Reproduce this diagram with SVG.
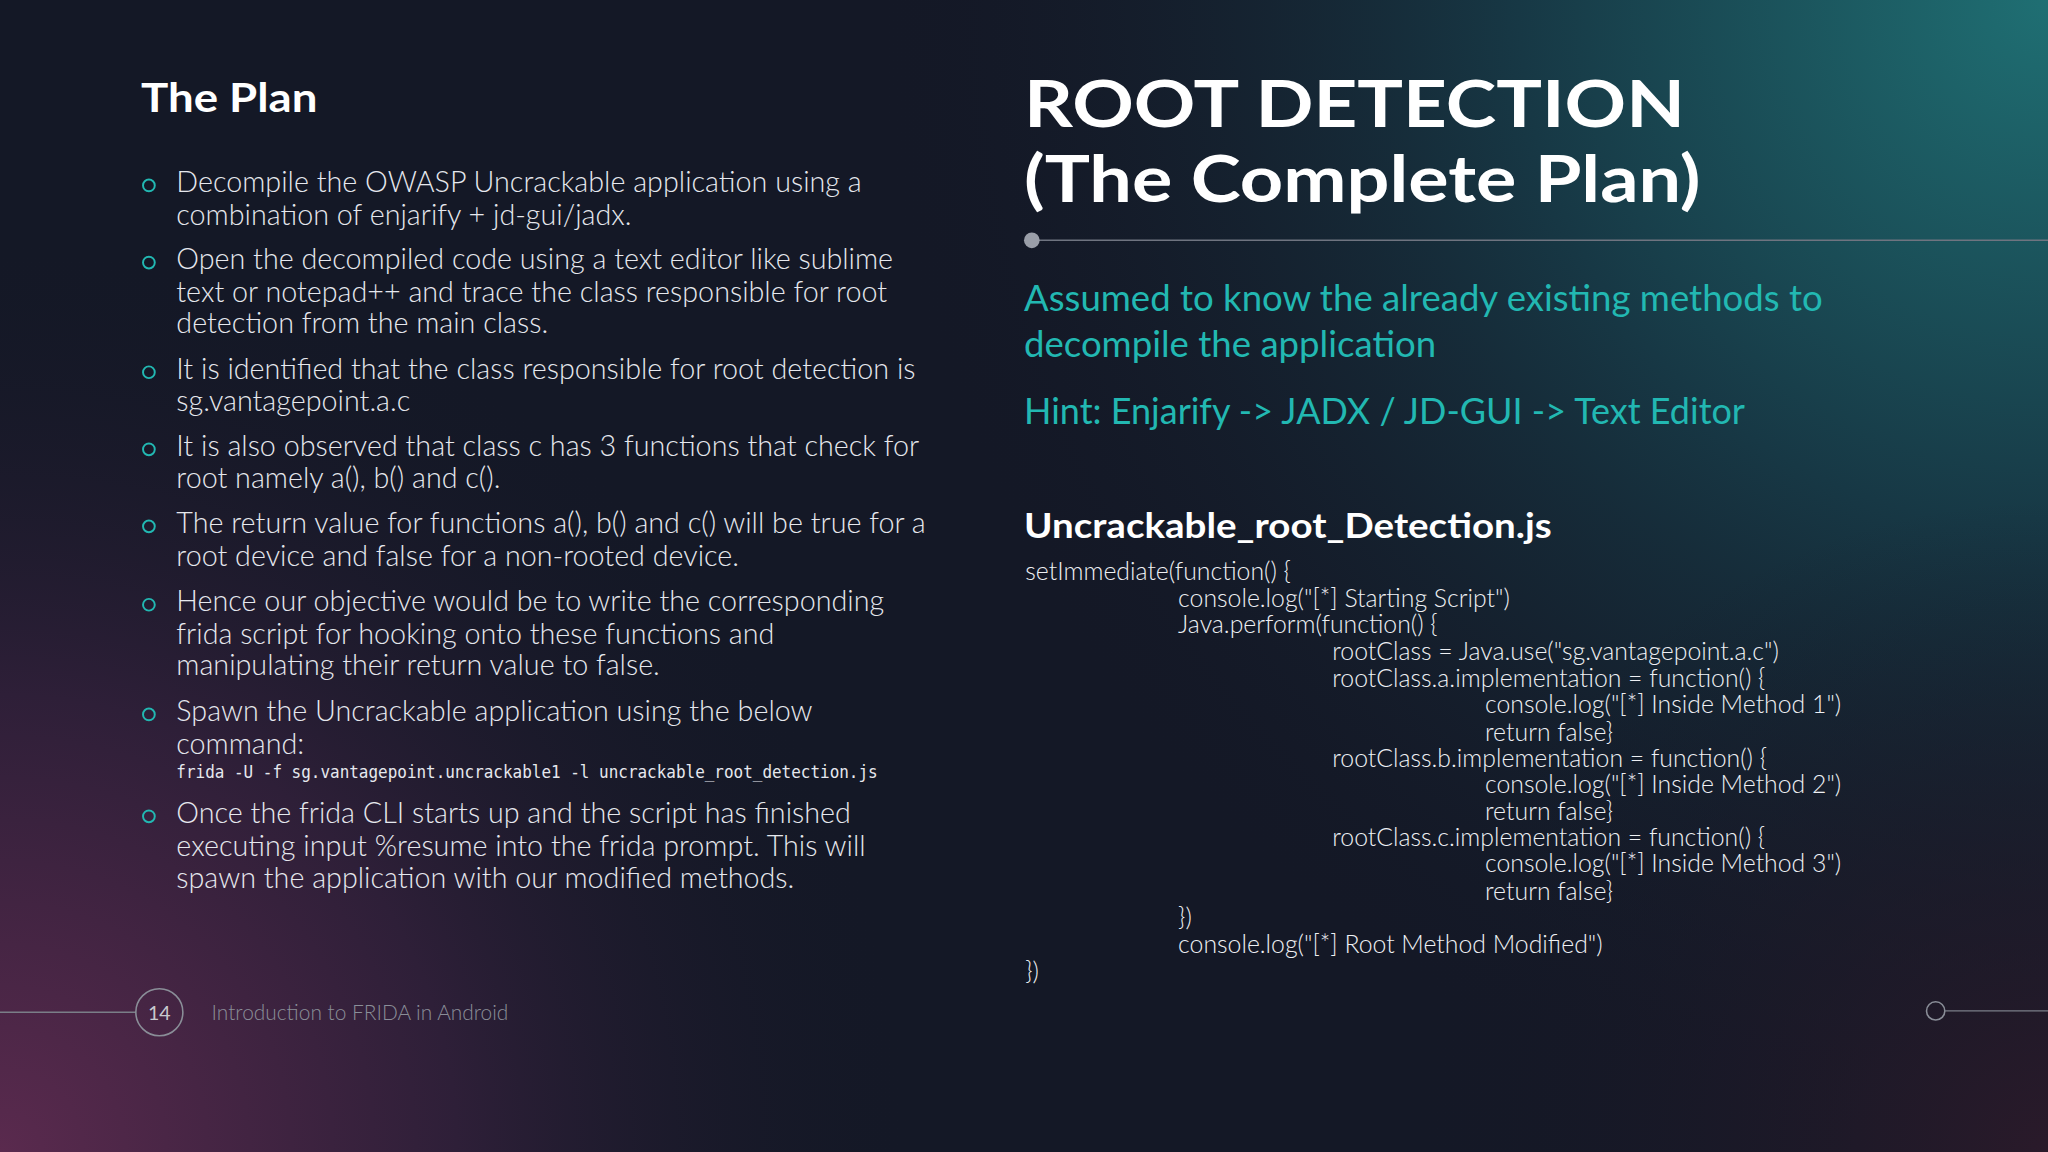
<svg xmlns="http://www.w3.org/2000/svg" width="2048" height="1152" viewBox="0 0 2048 1152">
<defs>
<radialGradient id="g1" cx="1568" cy="0" r="900" gradientUnits="userSpaceOnUse"><stop offset="0" stop-color="#1f6f73"/><stop offset="0.45" stop-color="#173845"/><stop offset="1" stop-color="#141826" stop-opacity="0"/></radialGradient>
<radialGradient id="g2" cx="0" cy="882" r="700" gradientUnits="userSpaceOnUse"><stop offset="0" stop-color="#5a2a4e"/><stop offset="0.5" stop-color="#2e1f38"/><stop offset="1" stop-color="#141826" stop-opacity="0"/></radialGradient>
<radialGradient id="g3" cx="1568" cy="882" r="500" gradientUnits="userSpaceOnUse"><stop offset="0" stop-color="#2a1a2a"/><stop offset="1" stop-color="#141826" stop-opacity="0"/></radialGradient>
<style>
.b{font-family:Lato,"Open Sans",sans-serif;font-weight:300;font-size:22px;fill:#e6e8ee}
.c{font-family:Lato,"Open Sans",sans-serif;font-weight:300;font-size:19px;fill:#eef0f4}
.t{font-family:Lato,"Open Sans",sans-serif;font-weight:400;font-size:28px;fill:#22b8b2}
.h{font-family:Lato,"Open Sans",sans-serif;font-weight:700;fill:#ffffff}
.m{font-family:"DejaVu Sans Mono",monospace;font-size:14px;fill:#e6e8ee}
.bul{fill:none;stroke:#22b8b2;stroke-width:1.5}
</style>
</defs>
<rect width="2048" height="1152" fill="#141826"/>
<g transform="scale(1.30612)">
<rect width="1568" height="882" fill="url(#g1)"/>
<rect width="1568" height="882" fill="url(#g2)"/>
<rect width="1568" height="882" fill="url(#g3)"/>
<g id="left">
<text class="h" x="108" y="86" font-size="30" textLength="135" lengthAdjust="spacingAndGlyphs">The Plan</text>
<g class="bullets">
<circle class="bul" cx="114" cy="142" r="4.5"/><circle class="bul" cx="114" cy="201" r="4.5"/><circle class="bul" cx="114" cy="285" r="4.5"/><circle class="bul" cx="114" cy="344" r="4.5"/><circle class="bul" cx="114" cy="403" r="4.5"/><circle class="bul" cx="114" cy="463" r="4.5"/><circle class="bul" cx="114" cy="547" r="4.5"/><circle class="bul" cx="114" cy="625" r="4.5"/>
</g>
<text class="b" x="135" y="147">Decompile the OWASP Uncrackable application using a</text>
<text class="b" x="135" y="172">combination of enjarify + jd-gui/jadx.</text>
<text class="b" x="135" y="206">Open the decompiled code using a text editor like sublime</text>
<text class="b" x="135" y="231">text or notepad++ and trace the class responsible for root</text>
<text class="b" x="135" y="255">detection from the main class.</text>
<text class="b" x="135" y="290">It is identified that the class responsible for root detection is</text>
<text class="b" x="135" y="315">sg.vantagepoint.a.c</text>
<text class="b" x="135" y="349">It is also observed that class c has 3 functions that check for</text>
<text class="b" x="135" y="374">root namely a(), b() and c().</text>
<text class="b" x="135" y="408">The return value for functions a(), b() and c() will be true for a</text>
<text class="b" x="135" y="433">root device and false for a non-rooted device.</text>
<text class="b" x="135" y="468">Hence our objective would be to write the corresponding</text>
<text class="b" x="135" y="493">frida script for hooking onto these functions and</text>
<text class="b" x="135" y="517">manipulating their return value to false.</text>
<text class="b" x="135" y="552">Spawn the Uncrackable application using the below</text>
<text class="b" x="135" y="577">command:</text>
<text class="m" x="135" y="596" textLength="537" lengthAdjust="spacingAndGlyphs">frida -U -f sg.vantagepoint.uncrackable1 -l uncrackable_root_detection.js</text>
<text class="b" x="135" y="630">Once the frida CLI starts up and the script has finished</text>
<text class="b" x="135" y="655">executing input %resume into the frida prompt. This will</text>
<text class="b" x="135" y="680">spawn the application with our modified methods.</text>
</g>
<g id="right">
<text class="h" x="784" y="97" font-size="50" textLength="506" lengthAdjust="spacingAndGlyphs">ROOT DETECTION</text>
<text class="h" x="784" y="155" font-size="50" textLength="518" lengthAdjust="spacingAndGlyphs">(The Complete Plan)</text>
<line x1="790" y1="184" x2="1568" y2="184" stroke="#6f7480" stroke-width="1.2"/>
<circle cx="790" cy="184" r="6" fill="#9a9ea8"/>
<text class="t" x="784" y="238">Assumed to know the already existing methods to</text>
<text class="t" x="784" y="273">decompile the application</text>
<text class="t" x="784" y="325" textLength="552" lengthAdjust="spacingAndGlyphs">Hint: Enjarify -&gt; JADX / JD-GUI -&gt; Text Editor</text>
<text class="h" x="784" y="412" font-size="26" textLength="404" lengthAdjust="spacingAndGlyphs">Uncrackable_root_Detection.js</text>
<text class="c" x="785" y="444">setImmediate(function() {</text>
<text class="c" x="902" y="465">console.log("[*] Starting Script")</text>
<text class="c" x="902" y="485">Java.perform(function() {</text>
<text class="c" x="1020" y="505">rootClass = Java.use("sg.vantagepoint.a.c")</text>
<text class="c" x="1020" y="526">rootClass.a.implementation = function() {</text>
<text class="c" x="1137" y="546">console.log("[*] Inside Method 1")</text>
<text class="c" x="1137" y="567">return false}</text>
<text class="c" x="1020" y="587">rootClass.b.implementation = function() {</text>
<text class="c" x="1137" y="607">console.log("[*] Inside Method 2")</text>
<text class="c" x="1137" y="628">return false}</text>
<text class="c" x="1020" y="648">rootClass.c.implementation = function() {</text>
<text class="c" x="1137" y="668">console.log("[*] Inside Method 3")</text>
<text class="c" x="1137" y="689">return false}</text>
<text class="c" x="902" y="709">})</text>
<text class="c" x="902" y="730">console.log("[*] Root Method Modified")</text>
<text class="c" x="785" y="750">})</text>
</g>
<g id="footer">
<line x1="0" y1="775" x2="104" y2="775" stroke="#7a7e88" stroke-width="1"/>
<circle cx="122" cy="775" r="18" fill="none" stroke="#8a8e98" stroke-width="1.2"/>
<text x="122" y="781" text-anchor="middle" font-family="Lato,sans-serif" font-size="15" fill="#c8cad0">14</text>
<text x="162" y="781" font-family="Lato,sans-serif" font-weight="300" font-size="16" fill="#8a8e98">Introduction to FRIDA in Android</text>
<circle cx="1482" cy="774" r="7" fill="none" stroke="#8a8e98" stroke-width="1.2"/>
<line x1="1489" y1="774" x2="1568" y2="774" stroke="#7a7e88" stroke-width="1"/>
</g>
</g>
</svg>
